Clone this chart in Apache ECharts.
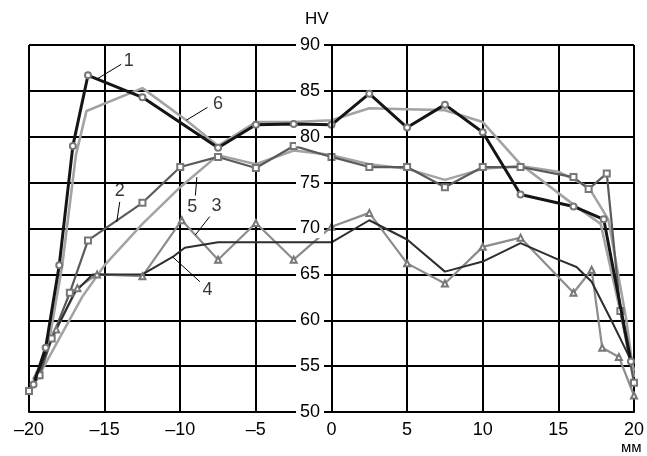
<!DOCTYPE html>
<html>
<head>
<meta charset="utf-8">
<script src="https://cdn.jsdelivr.net/npm/echarts@6/dist/echarts.min.js"></script>
<style>
  html, body { margin: 0; padding: 0; background: #fff; }
  #chart { width: 647px; height: 456px; }
</style>
</head>
<body>
<div id="chart"></div>
<script>
(function(){

  // hardness profiles, [mm, HV]
  var hv1 = [[-19.7,53],[-18.9,57],[-18,66],[-17.1,79],[-16.1,86.7],[-12.5,84.3],[-7.5,78.8],[-5,81.3],[-2.5,81.4],[0,81.3],[2.5,84.7],[5,81],[7.5,83.5],[10,80.5],[12.5,73.7],[16,72.4],[18,71],[19.8,55.5]];
  var hv2 = [[-20,52.3],[-19.3,54],[-18.5,58],[-17.3,63],[-16.1,68.7],[-12.5,72.8],[-10,76.7],[-7.5,77.8],[-5,76.6],[-2.5,79],[0,77.8],[2.5,76.7],[5,76.7],[7.5,74.5],[10,76.7],[12.5,76.7],[16,75.6],[17,74.3],[18.2,76],[19.1,61],[20,53.2]];
  var hv3 = [[-19.5,54],[-18.2,59],[-16.8,63.5],[-15.5,65],[-12.5,64.8],[-9.9,70.9],[-7.5,66.6],[-5,70.6],[-2.5,66.6],[0,70.2],[2.5,71.7],[5,66.2],[7.5,64],[10,68],[12.5,69],[16,63],[17.2,65.5],[17.9,57],[19,56],[20,51.8]];
  var hv4 = [[-19.7,53],[-18.5,58],[-17,63],[-15.8,65],[-12.5,65],[-10.5,66.9],[-9.7,67.9],[-7.5,68.5],[-5,68.5],[-2.5,68.5],[0,68.5],[2.5,70.9],[5,68.8],[7.5,65.3],[10,66.4],[12.5,68.4],[15,66.6],[16.2,65.8],[17.2,64.2],[18.5,60],[19.9,55.3]];
  var hv5 = [[-19.5,53.5],[-18,58],[-16.5,62.5],[-15,66],[-12.5,70.5],[-10,74.5],[-7.5,78],[-5,77],[-2.5,78.5],[0,78],[2.5,77],[5,76.5],[7.5,75.3],[10,76.5],[12.5,76.8],[15,76.2],[17,74.5],[18.3,71],[19.5,60],[20,53.8]];
  var hv6 = [[-19.5,53.5],[-18.7,57.5],[-17.8,66],[-16.9,78],[-16.2,82.8],[-12.5,85.3],[-9.6,81.8],[-7.5,79],[-5,81.6],[-2.5,81.6],[0,81.8],[2.5,83.1],[5,83],[7.5,82.9],[10,81.6],[12.5,77],[16,72.6],[17.8,70.5],[19.5,58],[20,54.5]];

  // curve numbers: text position and leader line, in [mm, HV]
  var noteText = ['1', '2', '3', '4', '5', '6'];
  var notePos  = [[-13.4,88.2],[-14,74.1],[-7.6,72.4],[-8.2,63.3],[-9.2,72.3],[-7.5,83.6]];
  var noteFrom = [[-15.5,86.3],[-14.2,70.7],[-9.0,69.3],[-10.5,66.9],[-8.9,75.6],[-9.6,81.8]];
  var noteTo   = [[-13.9,87.9],[-14,72.9],[-8.05,71.3],[-8.7,64.2],[-9.0,73.6],[-8.2,83.2]];

  var font = "'Liberation Sans', Arial, sans-serif";
  var gridLeft = 29, gridRight = 12;

  var chartDom = document.getElementById('chart');
  var myChart = echarts.init(chartDom);

  var notePoints = noteText.map(function(t, i){
    return { value: notePos[i], name: t };
  });
  var noteLines = noteText.map(function(t, i){
    return [{ coord: noteFrom[i] }, { coord: noteTo[i] }];
  });

  function line(data, color, width, symbol, z){
    return {
      type: 'line',
      data: data,
      z: z,
      symbol: symbol || 'none',
      symbolSize: 6,
      showSymbol: !!symbol,
      itemStyle: { color: '#777', borderWidth: 1.3 },
      lineStyle: { color: color, width: width },
      animation: false
    };
  }

  // y axis sits on x = 0, in the middle of the symmetric x range
  var midOffset = -(chartDom.clientWidth - gridLeft - gridRight) / 2;

  var option = {
    animation: false,
    grid: { left: gridLeft, right: gridRight, top: 45, bottom: 44 },
    xAxis: {
      type: 'value',
      min: -20, max: 20, interval: 5,
      axisLine: { onZero: false, lineStyle: { color: '#000', width: 2 } },
      axisTick: { show: false },
      axisLabel: {
        margin: 9,
        color: '#000',
        fontSize: 18,
        fontFamily: font,
        formatter: function(v){ return v < 0 ? '\u2013' + Math.abs(v) : String(v); }
      },
      splitLine: { lineStyle: { color: '#000', width: 2 } }
    },
    yAxis: [
      {
        type: 'value',
        position: 'right',
        min: 50, max: 90, interval: 5,
        axisLine: { show: false, onZero: false },
        axisTick: { show: false },
        axisLabel: { show: false },
        splitLine: { lineStyle: { color: '#000', width: 2 } }
      },
      {
        type: 'value',
        position: 'left',
        offset: midOffset,
        min: 50, max: 90, interval: 5,
        z: 5,
        axisLine: { show: true, onZero: false, lineStyle: { color: '#000', width: 2 } },
        axisTick: { show: false },
        axisLabel: {
          margin: 8,
          color: '#000',
          fontSize: 18,
          fontFamily: font,
          backgroundColor: '#fff',
          padding: [1, 4, 0, 4]
        },
        splitLine: { show: false }
      }
    ],
    graphic: [
      { type: 'text', left: 305, top: 11, style: { text: 'HV', fontSize: 17, fontFamily: font, fill: '#000' } },
      { type: 'text', left: 621, top: 440, style: { text: 'мм', fontSize: 15, fontFamily: font, fill: '#000' } }
    ],
    series: [
      line(hv5, '#a3a3a3', 2.5, null, 2),
      line(hv6, '#a3a3a3', 2.6, null, 2),
      line(hv3, '#8c8c8c', 2.2, 'emptyTriangle', 3),
      line(hv2, '#5a5a5a', 2.2, 'emptyRect', 3),
      line(hv4, '#2e2e2e', 2, null, 3),
      line(hv1, '#151515', 3, 'emptyCircle', 4),
      {
        type: 'scatter',
        data: notePoints,
        symbolSize: 0,
        z: 6,
        label: {
          show: true,
          position: 'inside',
          formatter: '{b}',
          color: '#000',
          fontSize: 18,
          fontFamily: font
        },
        markLine: {
          silent: true,
          symbol: 'none',
          label: { show: false },
          lineStyle: { color: '#000', width: 1, type: 'solid' },
          data: noteLines
        },
        animation: false
      }
    ]
  };

  option && myChart.setOption(option);

})();
</script>
</body>
</html>
